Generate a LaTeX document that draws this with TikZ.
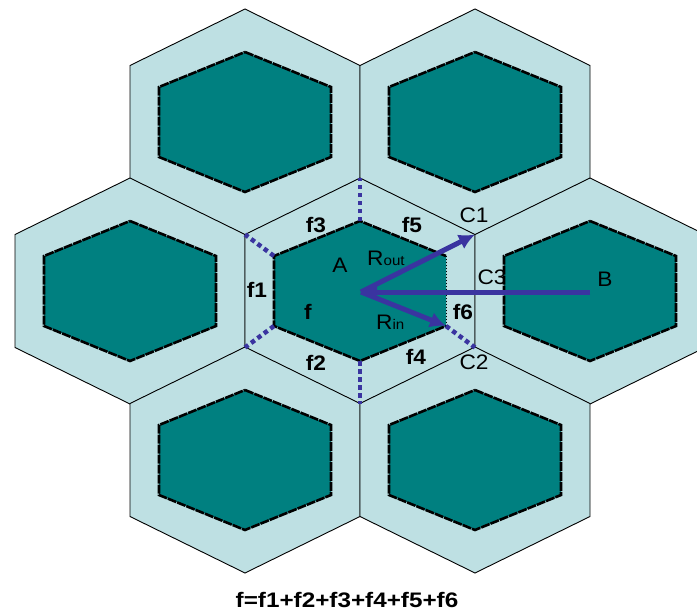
\documentclass[tikz,border=0pt]{standalone}
\usepackage{fontspec}
\setmainfont{Liberation Sans}
\usetikzlibrary{arrows.meta}
\definecolor{cellblue}{RGB}{190,224,227}
\definecolor{coreteal}{RGB}{0,128,128}
\definecolor{arrowblue}{RGB}{58,52,160}
\tikzset{
  outerhex/.style={fill=cellblue, draw=black, line width=0.9pt},
  innerhex/.style={fill=coreteal, draw=black, line width=2.6pt, dash pattern=on 9pt off 1pt},
  innerborder/.style={draw=black, line width=2.6pt, dash pattern=on 9pt off 1pt},
  bluedots/.style={draw=arrowblue, line width=4.5pt, dash pattern=on 4.5pt off 3.5pt},
  arrowline/.style={draw=arrowblue, line width=5pt, -{Latex[length=16pt,width=16pt]}},
  lab/.style={inner sep=0pt, font=\fontsize{21}{22}\selectfont, xscale=1.08},
  blab/.style={inner sep=0pt, font=\fontsize{21}{22}\selectfont\bfseries, xscale=1.08},
  outercell/.pic={\path[outerhex] (0,-113) -- (115,-56.5) -- (115,56.5) -- (0,113) -- (-115,56.5) -- (-115,-56.5) -- cycle;},
  innercell/.pic={\path[innerhex] (0,-70) -- (86,-35) -- (86,35) -- (0,70) -- (-86,35) -- (-86,-35) -- cycle;}
}
\begin{document}
\begin{tikzpicture}[x=1pt,y=-1pt]
\clip (0,0) rectangle (697,616);
\fill[white] (0,0) rectangle (697,616);
% outer cells
\pic at (245,122) {outercell};
\pic at (475,122) {outercell};
\pic at (130,291) {outercell};
\pic at (360,291) {outercell};
\pic at (590,291) {outercell};
\pic at (245,460) {outercell};
\pic at (475,460) {outercell};
% C3 label (partly hidden by cell B)
\node[lab] (c3) at (492,277) {C3};
% inner cells
\pic at (245,122) {innercell};
\pic at (475,122) {innercell};
\pic at (130,291) {innercell};
\pic at (590,291) {innercell};
\pic at (245,460) {innercell};
\pic at (475,460) {innercell};
% central cell geometry
\coordinate (A) at (361,292);
\coordinate (B) at (590,292);
\coordinate (Otop) at (360,178);
\coordinate (C1v) at (475,234.5);
\coordinate (C2v) at (475,347.5);
\coordinate (Obot) at (360,404);
\coordinate (OLL) at (245,347.5);
\coordinate (OUL) at (245,234.5);
\coordinate (Itop) at (360,221);
\coordinate (IUR) at (446,256);
\coordinate (ILR) at (446,326);
\coordinate (Ibot) at (360,361);
\coordinate (ILL) at (274,326);
\coordinate (IUL) at (274,256);
\fill[coreteal] (Itop) -- (IUR) -- (ILR) -- (Ibot) -- (ILL) -- (IUL) -- cycle;
\draw[innerborder] (IUR) -- (Itop) -- (IUL) -- (ILL) -- (Ibot) -- (ILR);
\draw[black, line width=0.9pt, dash pattern=on 1.5pt off 1.5pt] (ILR) -- (IUR);
% blue dotted separators
\draw[bluedots] (Itop) -- (Otop);
\draw[bluedots] (Ibot) -- (Obot);
\draw[bluedots] (IUL) -- (OUL);
\draw[bluedots] (ILL) -- (OLL);
\draw[bluedots] (ILR) -- (C2v);
% arrows
\draw[arrowline] (B) -- (A);
\draw[arrowline] (A) -- (C1v);
\draw[arrowline] (A) -- (ILR);
% labels
\node[lab] (la) at (340,265) {A};
\node[lab] (lb) at (605,279) {B};
\node[lab] (lc1) at (474,215) {C1};
\node[lab] (lc2) at (474,362) {C2};
\node[lab, anchor=base west] (lrout) at (367,265) {R\fontsize{14}{15}\selectfont out};
\node[lab, anchor=base west] (lrin) at (376,329) {R\fontsize{14}{15}\selectfont in};
\node[blab] (lf) at (308,312) {f};
\node[blab] (lf1) at (257,290) {f1};
\node[blab] (lf2) at (316,363) {f2};
\node[blab] (lf3) at (316,225) {f3};
\node[blab] (lf4) at (416,357) {f4};
\node[blab] (lf5) at (412,225) {f5};
\node[blab] (lf6) at (463,312) {f6};
\node[blab, xscale=1.07] (formula) at (347,600) {f=f1+f2+f3+f4+f5+f6};
\end{tikzpicture}
\end{document}
